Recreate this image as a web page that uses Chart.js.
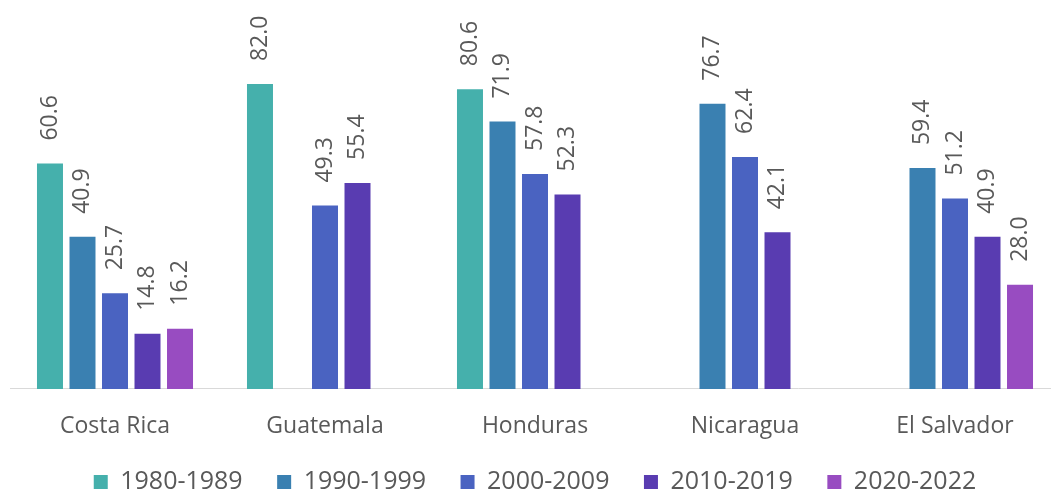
<!DOCTYPE html>
<html>
<head>
<meta charset="utf-8">
<script src="https://cdn.jsdelivr.net/npm/chart.js@4/dist/chart.umd.min.js"></script>
<style>
  html, body { margin: 0; padding: 0; background: #ffffff; overflow: hidden; }
  #wrap { position: absolute; left: 0; top: 0; width: 1062px; height: 534px; }
</style>
</head>
<body>
<div id="wrap"><canvas id="c" width="1062" height="534"></canvas></div>
<script>
const countries = ["Costa Rica", "Guatemala", "Honduras", "Nicaragua", "El Salvador"];
const periods = ["1980-1989", "1990-1999", "2000-2009", "2010-2019", "2020-2022"];
const s1980 = [60.6, 82.0, 80.6, null, null];
const s1990 = [40.9, null, 71.9, 76.7, 59.4];
const s2000 = [25.7, 49.3, 57.8, 62.4, 51.2];
const s2010 = [14.8, 55.4, 52.3, 42.1, 40.9];
const s2020 = [16.2, null, null, null, 28.0];
const colors = ["#45B0AC", "#3A80B1", "#4A63C1", "#593CB1", "#984CC1"];

const seriesList = [s1980, s1990, s2000, s2010, s2020];
const FONT = "'Open Sans', 'Noto Sans', sans-serif";
const TEXT = "#595959";
const LEGEND_SIZE = 25;
const LEGEND_PAD = 34.5;

const dataLabels = {
  id: "dataLabels",
  afterDatasetsDraw(chart) {
    const ctx = chart.ctx;
    ctx.save();
    ctx.font = "23px " + FONT;
    ctx.fillStyle = TEXT;
    ctx.textAlign = "left";
    ctx.textBaseline = "middle";
    chart.data.datasets.forEach((ds, di) => {
      const meta = chart.getDatasetMeta(di);
      meta.data.forEach((bar, i) => {
        const v = ds.data[i];
        if (v === null || v === undefined) return;
        ctx.save();
        ctx.translate(bar.x, bar.y - 23);
        ctx.rotate(-Math.PI / 2);
        ctx.fillText(v.toFixed(1), 0, 0);
        ctx.restore();
      });
    });
    ctx.restore();
  }
};

// place the legend row 93px below the plot baseline
const legendPlace = {
  id: "legendPlace",
  afterLayout(chart) {
    const lg = chart.legend;
    if (!lg) return;
    const current = lg.top + LEGEND_PAD + LEGEND_SIZE / 2;
    const target = chart.chartArea.bottom + 93;
    const shift = target - current;
    lg.top += shift;
    lg.bottom += shift;
  }
};

new Chart(document.getElementById("c"), {
  type: "bar",
  data: {
    labels: countries,
    datasets: periods.map((p, i) => ({
      label: p,
      data: seriesList[i],
      backgroundColor: colors[i],
      borderWidth: 0,
      barPercentage: 0.8,
      categoryPercentage: 0.774
    }))
  },
  options: {
    responsive: false,
    animation: false,
    devicePixelRatio: 1,
    layout: { padding: { left: 10, right: 2, top: 0, bottom: 0 } },
    scales: {
      x: {
        grid: { display: false, drawTicks: false },
        border: { display: true, color: "#d9d9d9", width: 1 },
        ticks: { color: TEXT, font: { family: FONT, size: 23 }, padding: 24 }
      },
      y: {
        display: false,
        min: 0,
        max: 104.6
      }
    },
    plugins: {
      legend: {
        position: "bottom",
        labels: {
          boxWidth: 14,
          boxHeight: 14,
          padding: LEGEND_PAD,
          color: TEXT,
          font: { family: FONT, size: LEGEND_SIZE }
        }
      },
      tooltip: { enabled: false }
    }
  },
  plugins: [dataLabels, legendPlace]
});
</script>
</body>
</html>
